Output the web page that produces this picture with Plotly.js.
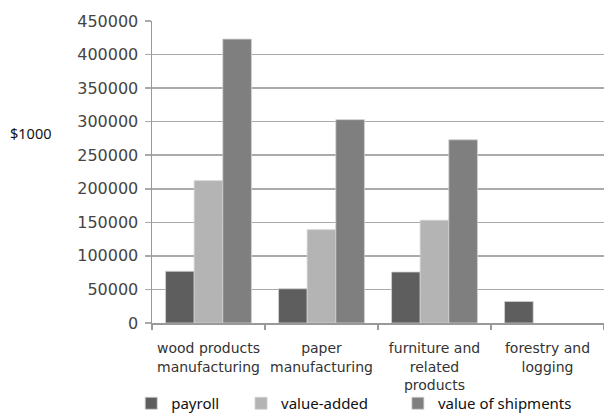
<!DOCTYPE html>
<html>
<head>
<meta charset="utf-8">
<script src="https://cdn.plot.ly/plotly-3.0.1.min.js"></script>
<style>html,body{margin:0;padding:0;background:#fff;}#chart{width:604px;height:420px;}</style>
</head>
<body>
<div id="chart"></div>
<script>
var categories = ["wood products<br>manufacturing", "paper<br>manufacturing", "furniture and<br>related<br>products", "forestry and<br>logging"];
var payroll = [77000, 51000, 76000, 32000];
var valueAdded = [212000, 139000, 153000, null];
var valueOfShipments = [423000, 303000, 273000, null];
var seriesNames = ["payroll", "value-added", "value of shipments"];
var yTicks = [0, 50000, 100000, 150000, 200000, 250000, 300000, 350000, 400000, 450000];

var colors = ["#5e5e5e", "#b4b4b4", "#7f7f7f"];
var legendIds = ["legend", "legend2", "legend3"];
var series = [payroll, valueAdded, valueOfShipments];
var data = series.map(function (vals, i) {
  return {
    type: "bar",
    name: seriesNames[i],
    x: categories,
    y: vals,
    legend: legendIds[i],
    marker: {color: colors[i], line: {color: "#cfcfcf", width: 0.8}}
  };
});

function legendAt(xp) {
  return {
    orientation: "h",
    x: xp, xanchor: "left",
    y: -0.268, yanchor: "middle",
    font: {family: "Noto Sans", size: 15, color: "#111"},
    bgcolor: "rgba(0,0,0,0)"
  };
}

var layout = {
  width: 604, height: 420,
  margin: {l: 152, r: 0, t: 21, b: 96},
  paper_bgcolor: "#fff", plot_bgcolor: "#fff",
  barmode: "group",
  bargap: 0.24, bargroupgap: 0,
  font: {family: "DejaVu Sans", color: "#333"},
  xaxis: {
    type: "category",
    tickson: "boundaries",
    ticks: "outside", ticklen: 5, tickcolor: "#999", tickwidth: 1.5,
    showline: true, linecolor: "#999", linewidth: 1.5,
    showgrid: false,
    ticklabelstandoff: 12,
    tickfont: {family: "DejaVu Sans", size: 14, color: "#333"},
    fixedrange: true
  },
  yaxis: {
    range: [0, 450000],
    tickvals: yTicks,
    ticktext: yTicks.map(String),
    ticks: "outside", ticklen: 6, tickcolor: "#aaa", tickwidth: 1.5,
    showline: true, linecolor: "#999", linewidth: 1.5,
    showgrid: true, gridcolor: "#aaa", gridwidth: 1.5,
    zeroline: false,
    ticklabelstandoff: 3,
    tickfont: {family: "DejaVu Sans", size: 16, color: "#444"},
    fixedrange: true
  },
  showlegend: true,
  legend: legendAt(-0.046),
  legend2: legendAt(0.197),
  legend3: legendAt(0.544),
  annotations: [{
    text: "$1000",
    xref: "paper", yref: "paper",
    x: -0.318, y: 0.63, xanchor: "left", yanchor: "middle",
    showarrow: false,
    font: {family: "Noto Sans", size: 14.5, color: "#111"}
  }]
};

Plotly.newPlot("chart", data, layout, {displayModeBar: false, staticPlot: true});
</script>
</body>
</html>
